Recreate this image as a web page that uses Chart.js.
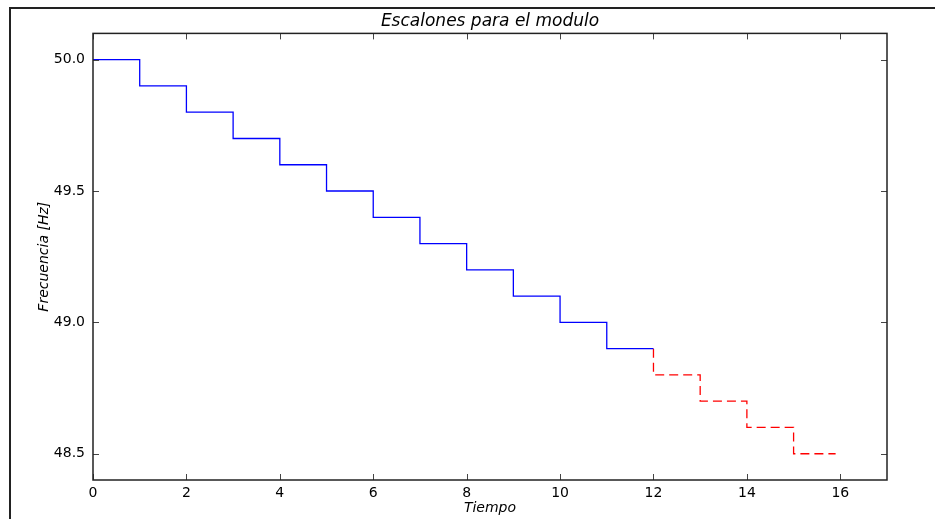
<!DOCTYPE html>
<html>
<head>
<meta charset="utf-8">
<script src="https://cdn.jsdelivr.net/npm/chart.js@4/dist/chart.umd.min.js"></script>
<style>
  html, body { margin: 0; padding: 0; background: #fff; }
  #wrap { position: relative; width: 935px; height: 519px; }
  #marco { position: absolute; left: 9px; top: 7px; right: 0; bottom: 0;
           border-top: 2px solid #222; border-left: 2px solid #222; pointer-events: none; }
  canvas { position: absolute; left: 0; top: 0; }
</style>
</head>
<body>
<div id="wrap">
  <canvas id="grafico" width="935" height="519"></canvas>
  <div id="marco"></div>
</div>
<script>
// --- Datos ---
const tiempoAzul = [0, 1, 2, 3, 4, 5, 6, 7, 8, 9, 10, 11, 12];
const frecAzul = [50.0, 49.9, 49.8, 49.7, 49.6, 49.5, 49.4, 49.3, 49.2, 49.1, 49.0, 48.9, 48.9];
const tiempoRojo = [12, 12, 13, 14, 15, 15.9];
const frecRojo = [48.9, 48.8, 48.7, 48.6, 48.5, 48.5];
const ticksX = [0, 2, 4, 6, 8, 10, 12, 14, 16];
const ticksY = [48.5, 49.0, 49.5, 50.0];

const fuente = "'DejaVu Sans', sans-serif";

// Marco del area y ticks hacia dentro (estilo matplotlib)
const marcoPlugin = {
  id: 'marco',
  afterDatasetsDraw(chart) {
    const { ctx, chartArea: a, scales } = chart;
    const largo = 6;
    ctx.save();
    ctx.strokeStyle = '#444';
    ctx.lineWidth = 1;
    ctx.beginPath();
    ticksX.forEach(v => {
      const x = Math.round(scales.x.getPixelForValue(v)) + 0.5;
      ctx.moveTo(x, a.bottom); ctx.lineTo(x, a.bottom - largo);
      ctx.moveTo(x, a.top); ctx.lineTo(x, a.top + largo);
    });
    ticksY.forEach(v => {
      const y = Math.round(scales.y.getPixelForValue(v)) + 0.5;
      ctx.moveTo(a.left, y); ctx.lineTo(a.left + largo, y);
      ctx.moveTo(a.right, y); ctx.lineTo(a.right - largo, y);
    });
    ctx.stroke();
    ctx.strokeStyle = '#222';
    ctx.lineWidth = 1.5;
    ctx.strokeRect(a.left, a.top, a.right - a.left, a.bottom - a.top);
    ctx.restore();
  }
};

new Chart(document.getElementById('grafico'), {
  type: 'line',
  data: {
    datasets: [
      {
        data: tiempoAzul.map((t, i) => ({ x: t, y: frecAzul[i] })),
        borderColor: '#0000ff',
        borderWidth: 1.3,
        stepped: 'before',
        pointRadius: 0,
        fill: false
      },
      {
        data: tiempoRojo.map((t, i) => ({ x: t, y: frecRojo[i] })),
        borderColor: '#ff0000',
        borderWidth: 1.3,
        borderDash: [9, 5],
        stepped: 'before',
        pointRadius: 0,
        fill: false
      }
    ]
  },
  options: {
    responsive: false,
    animation: false,
    layout: { padding: { left: 0, right: 48, top: 0, bottom: 0 } },
    plugins: {
      legend: { display: false },
      tooltip: { enabled: false },
      title: {
        display: true,
        fullSize: false,
        text: 'Escalones para el modulo',
        color: '#000',
        font: { family: fuente, size: 17, style: 'italic', weight: 'normal' },
        padding: { top: 11, bottom: 2 }
      }
    },
    scales: {
      x: {
        type: 'linear',
        min: 0,
        max: 17,
        afterBuildTicks: s => { s.ticks = ticksX.map(v => ({ value: v })); },
        afterFit: s => { s.height = 39; },
        grid: { display: false, drawTicks: false },
        border: { display: false },
        ticks: {
          color: '#000',
          padding: 5,
          maxRotation: 0,
          font: { family: fuente, size: 14 },
          callback: v => String(v)
        },
        title: {
          display: true,
          text: 'Tiempo',
          color: '#000',
          font: { family: fuente, size: 14, style: 'italic' },
          padding: { top: 0, bottom: 2 }
        }
      },
      y: {
        type: 'linear',
        min: 48.4,
        max: 50.1,
        afterBuildTicks: s => { s.ticks = ticksY.map(v => ({ value: v })); },
        afterFit: s => { s.width = 93; },
        grid: { display: false, drawTicks: false },
        border: { display: false },
        ticks: {
          color: '#000',
          padding: 8,
          font: { family: fuente, size: 14 },
          callback: v => v.toFixed(1)
        },
        title: {
          display: true,
          text: 'Frecuencia [Hz]',
          color: '#000',
          font: { family: fuente, size: 14, style: 'italic' },
          padding: { top: 36, bottom: 0 }
        }
      }
    }
  },
  plugins: [marcoPlugin]
});
</script>
</body>
</html>
